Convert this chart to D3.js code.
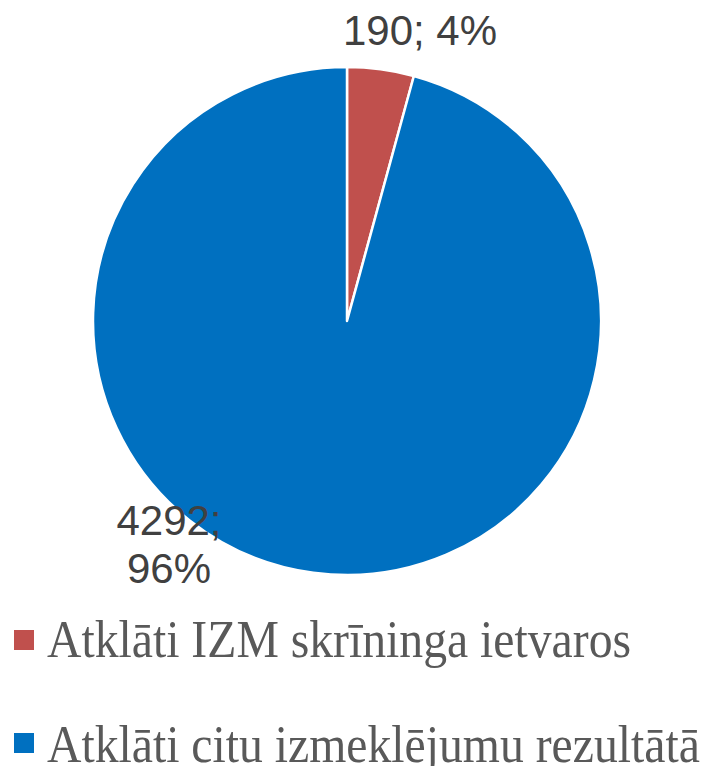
<!DOCTYPE html>
<html>
<head>
<meta charset="utf-8">
<script src="https://cdn.jsdelivr.net/npm/d3@7"></script>
<style>
  html, body { margin: 0; padding: 0; background: #fff; }
  svg { display: block; }
</style>
</head>
<body>
<svg id="chart"></svg>
<script>
const categories = ['Atklāti IZM skrīninga ietvaros', 'Atklāti citu izmeklējumu rezultātā'];
const values = [190, 4292];
const percents = ['4%', '96%'];
const colors = ['#C0504D', '#0070C0'];

const width = 707;
const height = 766;
const cx = 347;
const cy = 321;
const radius = 254;

const svg = d3.select('#chart').attr('width', width).attr('height', height);

const pie = d3.pie().sort(null).value((d) => d)(values);
const arc = d3.arc().innerRadius(0).outerRadius(radius);

const g = svg.append('g').attr('transform', `translate(${cx},${cy})`);

g.selectAll('path')
  .data(pie)
  .join('path')
  .attr('d', arc)
  .attr('fill', (d, i) => colors[i])
  .attr('stroke', '#fff')
  .attr('stroke-width', 2.5)
  .attr('stroke-linejoin', 'round');

// data labels
const labelFont = { family: 'Liberation Sans, Arial, sans-serif', size: 42, color: '#404040' };

svg.append('text')
  .attr('x', 420)
  .attr('y', 45)
  .attr('text-anchor', 'middle')
  .attr('font-family', labelFont.family)
  .attr('font-size', labelFont.size)
  .attr('fill', labelFont.color)
  .text(`${values[0]}; ${percents[0]}`);

const lbl2 = svg.append('text')
  .attr('text-anchor', 'middle')
  .attr('font-family', labelFont.family)
  .attr('font-size', labelFont.size)
  .attr('fill', labelFont.color);
lbl2.append('tspan').attr('x', 169).attr('y', 535).text(`${values[1]};`);
lbl2.append('tspan').attr('x', 169).attr('y', 583).text(percents[1]);

// legend
const legend = svg.append('g');
const rows = [{ y: 657, sq: 630 }, { y: 762, sq: 733 }];

categories.forEach((c, i) => {
  legend.append('rect')
    .attr('x', 14)
    .attr('y', rows[i].sq)
    .attr('width', 20)
    .attr('height', 20)
    .attr('fill', colors[i]);
  legend.append('text')
    .attr('transform', `translate(47,${rows[i].y}) scale(0.9,1)`)
    .attr('font-family', 'Liberation Serif, Times New Roman, serif')
    .attr('font-size', 53)
    .attr('fill', '#595959')
    .text(c);
});
</script>
</body>
</html>
